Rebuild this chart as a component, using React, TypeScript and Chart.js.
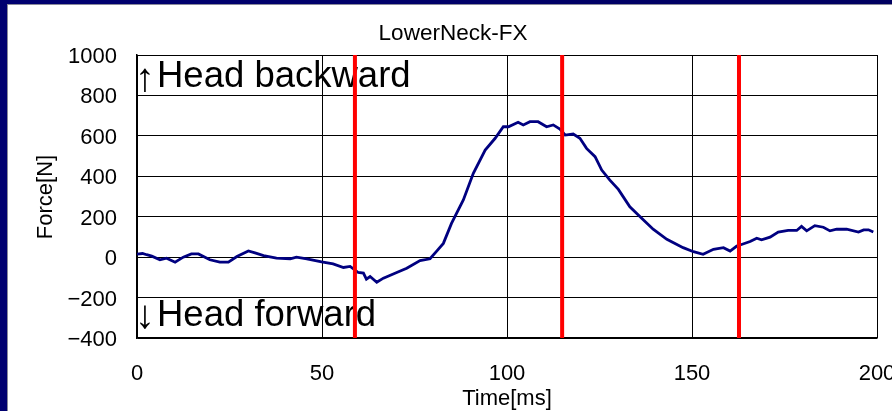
import React, { useEffect, useRef } from 'react';
import { Chart, registerables } from 'chart.js';

Chart.register(...registerables);

const chartTitle = 'LowerNeck-FX';
const xTitle = 'Time[ms]';
const yTitle = 'Force[N]';
const upLabel = 'Head backward';
const downLabel = 'Head forward';

const timeMs = [
  0, 1.5, 2.6, 4, 6.2, 8, 10.3, 12.5, 14.7, 16.6, 19.7, 22.4, 24.7, 27, 30.1, 31.9, 34.2, 37.7,
  41.4, 43.1, 45.9, 49.9, 53, 55.8, 57.6, 59.8, 61.2, 62, 63, 64.8, 66.6, 70.2, 72.9, 76.5, 79.2,
  81, 82.8, 85, 88.2, 90.9, 94.1, 96.8, 99, 100.4, 103, 104.4, 106.2, 108.4, 110.7, 112.5, 114.3,
  115.7, 117.9, 119.7, 121.5, 123.8, 125.6, 127.8, 130.1, 133.2, 136.4, 139.5, 143.2, 147.6, 150.4,
  153, 155.8, 158.5, 160.3, 162.1, 163, 165.7, 167.5, 168.8, 171.1, 173.3, 176, 178.3, 179.6, 181,
  183.2, 185.5, 187.3, 189.1, 191.8, 195, 196.4, 197.7, 199,
];
const forceN = [
  15, 18, 12, 5, -13, -5, -25, 0, 16, 16, -13, -25, -25, 3, 31, 21, 8, -5,
  -8, 0, -8, -23, -33, -51, -46, -76, -79, -109, -96, -124, -104, -76, -55, -17, -8,
  30, 68, 167, 283, 415, 530, 588, 645, 645, 667, 654, 670, 670, 645, 654, 633,
  604, 609, 588, 538, 497, 431, 381, 335, 249, 192, 138, 88, 47, 27,
  14, 39, 47, 30, 55, 60, 77, 94, 86, 99, 124, 132, 132, 152, 130,
  156, 148, 130, 138, 138, 124, 135, 135, 124,
];
const markerTimes = [58.9, 114.9, 162.7];

const xMin = 0;
const xMax = 200;
const xStep = 50;
const yMin = -400;
const yMax = 1000;
const yStep = 200;

const FONT = '"Liberation Sans", Arial, sans-serif';

export default function App() {
  const ref = useRef<HTMLCanvasElement | null>(null);

  useEffect(() => {
    if (!ref.current) return;
    const markerSets = markerTimes.map((t) => ({
      data: [
        { x: t, y: yMin },
        { x: t, y: yMax },
      ],
      borderColor: '#ff0000',
      borderWidth: 4,
      pointRadius: 0,
      tension: 0,
      borderCapStyle: 'butt' as const,
    }));

    const textPlugin = {
      id: 'texts',
      beforeDatasetsDraw(chart: any) {
        const ctx = chart.ctx;
        ctx.save();
        ctx.fillStyle = '#000';
        ctx.textBaseline = 'alphabetic';
        ctx.font = `40px ${FONT}`;
        ctx.textAlign = 'center';
        ctx.fillText('↑', 145, 91);
        ctx.fillText('↓', 145, 328);
        ctx.font = `36.5px ${FONT}`;
        ctx.textAlign = 'left';
        ctx.fillText(upLabel, 157, 87);
        ctx.fillText(downLabel, 157, 326);
        ctx.restore();
      },
      afterDraw(chart: any) {
        const ctx = chart.ctx;
        ctx.save();
        ctx.fillStyle = '#000';
        ctx.textBaseline = 'alphabetic';
        ctx.textAlign = 'center';
        ctx.font = `22.5px ${FONT}`;
        ctx.fillText(chartTitle, 453, 40);
        ctx.font = `22px ${FONT}`;
        ctx.fillText(xTitle, 507, 405);
        ctx.translate(51.5, 197);
        ctx.rotate(-Math.PI / 2);
        ctx.fillText(yTitle, 0, 0);
        ctx.restore();
      },
    };

    const chart = new Chart(ref.current, {
      type: 'line',
      data: {
        datasets: [
          ...markerSets,
          {
            data: timeMs.map((t, i) => ({ x: t, y: forceN[i] })),
            borderColor: '#000080',
            borderWidth: 2.8,
            pointRadius: 0,
            tension: 0,
          },
        ],
      },
      options: {
        responsive: false,
        animation: false,
        devicePixelRatio: 1,
        layout: { padding: { left: 0, top: 55, right: 15, bottom: 0 } },
        plugins: {
          legend: { display: false },
          tooltip: { enabled: false },
          title: { display: false },
        },
        scales: {
          x: {
            type: 'linear',
            min: xMin,
            max: xMax,
            ticks: {
              stepSize: xStep,
              color: '#000',
              font: { family: FONT, size: 22 },
              padding: 23,
              maxRotation: 0,
              autoSkip: false,
            },
            grid: { color: '#000', lineWidth: 1, drawTicks: false },
            border: { color: '#000', width: 1.5 },
            afterFit(scale: any) {
              scale.height = 73;
              scale.paddingLeft = 0;
              scale.paddingRight = 0;
            },
          },
          y: {
            type: 'linear',
            min: yMin,
            max: yMax,
            ticks: {
              stepSize: yStep,
              color: '#000',
              font: { family: FONT, size: 22 },
              padding: 20,
              labelOffset: 2,
              callback: (v: any) => String(v).replace('-', '\u2212'),
            },
            grid: { color: '#000', lineWidth: 1, drawTicks: false },
            border: { color: '#000', width: 1.5 },
            afterFit(scale: any) {
              scale.width = 137;
              scale.paddingTop = 0;
              scale.paddingBottom = 0;
            },
          },
        },
      },
      plugins: [textPlugin],
    });
    return () => chart.destroy();
  }, []);

  return (
    <div
      style={{
        position: 'fixed',
        left: 0,
        top: 0,
        width: 892,
        height: 411,
        background: 'linear-gradient(90deg, #000070 0%, #000060 100%)',
        overflow: 'hidden',
      }}
    >
      <div
        style={{
          position: 'absolute',
          left: 7,
          top: 4,
          width: 1000,
          height: 1000,
          background: '#fff',
          borderLeft: '1px solid #8a8a9a',
          borderTop: '1px solid #8a8a9a',
        }}
      />
      <canvas
        ref={ref}
        width={892}
        height={411}
        style={{ position: 'absolute', left: 0, top: 0, width: 892, height: 411 }}
      />
    </div>
  );
}
